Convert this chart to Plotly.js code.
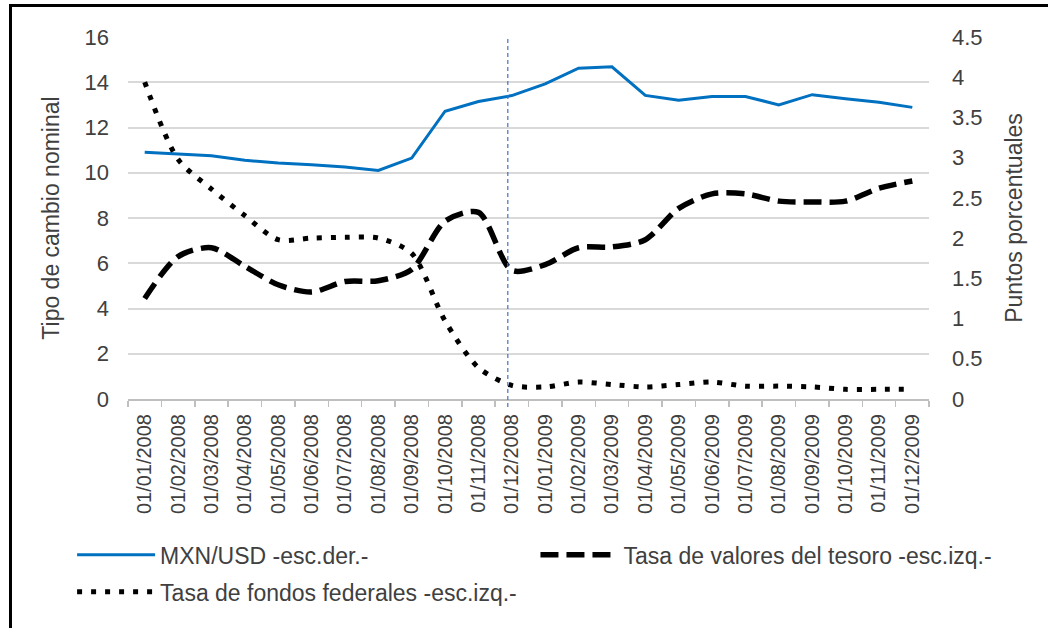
<!DOCTYPE html>
<html>
<head>
<meta charset="utf-8">
<script src="https://cdn.plot.ly/plotly-3.0.1.min.js"></script>
<style>
  html, body { margin: 0; padding: 0; background: #fff; }
  #wrap { position: relative; width: 1048px; height: 628px; overflow: hidden; }
  #chart { width: 1048px; height: 628px; }
  #frame { position: absolute; left: 9px; top: 4px; width: 1100px; height: 700px;
           border-left: 3px solid #000; border-top: 3px solid #000; pointer-events: none; }
</style>
</head>
<body>
<div id="wrap">
  <div id="chart"></div>
  <div id="frame"></div>
</div>
<script>
// ---- data ----
var categories = ['01/01/2008','01/02/2008','01/03/2008','01/04/2008','01/05/2008','01/06/2008',
  '01/07/2008','01/08/2008','01/09/2008','01/10/2008','01/11/2008','01/12/2008',
  '01/01/2009','01/02/2009','01/03/2009','01/04/2009','01/05/2009','01/06/2009',
  '01/07/2009','01/08/2009','01/09/2009','01/10/2009','01/11/2009','01/12/2009'];

// MXN/USD exchange rate (left axis)
var mxnUsd = [10.91, 10.82, 10.75, 10.55, 10.43, 10.35, 10.25, 10.10, 10.65, 12.72, 13.15, 13.41,
  13.93, 14.62, 14.68, 13.42, 13.20, 13.37, 13.37, 13.00, 13.45, 13.27, 13.12, 12.89];

// Treasury rate (right axis, percentage points)
var tesoro = [1.25, 1.77, 1.88, 1.65, 1.42, 1.33, 1.46, 1.47, 1.61, 2.21, 2.32, 1.60,
  1.67, 1.88, 1.89, 1.98, 2.37, 2.55, 2.55, 2.46, 2.45, 2.46, 2.62, 2.71];

// Federal funds rate (right axis, percentage points)
var fondosFed = [3.94, 2.98, 2.61, 2.28, 1.98, 2.00, 2.01, 2.00, 1.81, 0.97, 0.39, 0.17,
  0.15, 0.21, 0.18, 0.15, 0.18, 0.21, 0.16, 0.16, 0.15, 0.12, 0.12, 0.12];

var seriesNames = ['MXN/USD -esc.der.-', 'Tasa de valores del tesoro -esc.izq.-', 'Tasa de fondos federales -esc.izq.-'];
var markerCategory = '01/12/2008';

var leftTicks = [0, 2, 4, 6, 8, 10, 12, 14, 16];
var rightTicks = [0, 0.5, 1, 1.5, 2, 2.5, 3, 3.5, 4, 4.5];

// ---- chart ----
var FONT = 'Arial, "Liberation Sans", sans-serif';
var TXT = '#404040';

var traces = [
  { x: categories, y: mxnUsd, name: seriesNames[0], type: 'scatter', mode: 'lines', yaxis: 'y',
    legend: 'legend', legendgroup: 'a',
    line: { color: '#0070C0', width: 3 } },
  { x: categories, y: tesoro, name: seriesNames[1], type: 'scatter', mode: 'lines', yaxis: 'y2',
    legend: 'legend2', legendgroup: 'b',
    line: { color: '#000000', width: 5.5, dash: '18px,8px', shape: 'spline', smoothing: 0.8 } },
  { x: categories, y: fondosFed, name: seriesNames[2], type: 'scatter', mode: 'lines', yaxis: 'y2',
    legend: 'legend', legendgroup: 'c',
    line: { color: '#000000', width: 5, dash: '5px,9px', shape: 'spline', smoothing: 0.8 } }
];

var markerIdx = categories.indexOf(markerCategory) - 0.12;

var legendBase = {
  orientation: 'v', xanchor: 'left', yanchor: 'top',
  font: { size: 23, color: TXT, family: FONT },
  itemwidth: 78, bgcolor: 'rgba(0,0,0,0)', traceorder: 'grouped', tracegroupgap: 4
};

var layout = {
  width: 1048, height: 628,
  margin: { l: 127.5, r: 118.5, t: 37.3, b: 228.7, autoexpand: false },
  paper_bgcolor: '#ffffff', plot_bgcolor: '#ffffff',
  font: { family: FONT, color: TXT },
  showlegend: true,
  xaxis: {
    type: 'category', tickson: 'boundaries', ticks: 'outside', ticklen: 6, tickcolor: '#bfbfbf', tickwidth: 1.5,
    showline: true, linecolor: '#bfbfbf', linewidth: 2, showgrid: false, zeroline: false,
    tickangle: -90, tickfont: { size: 20, color: TXT, family: FONT }, ticklabelstandoff: 5,
    range: [-0.5, categories.length - 0.5], fixedrange: true, automargin: false
  },
  yaxis: {
    range: [0, 16], tickvals: leftTicks, ticktext: leftTicks.map(String),
    showgrid: true, gridcolor: '#d9d9d9', gridwidth: 2, zeroline: false, showline: false, ticks: '',
    tickfont: { size: 22, color: TXT, family: FONT }, ticklabelstandoff: 18,
    title: { text: 'Tipo de cambio nominal', font: { size: 23, color: TXT, family: FONT }, standoff: 18 },
    fixedrange: true, automargin: false
  },
  yaxis2: {
    overlaying: 'y', side: 'right', range: [0, 4.5], tickvals: rightTicks, ticktext: rightTicks.map(String),
    showgrid: false, zeroline: false, showline: false, ticks: '',
    tickfont: { size: 22, color: TXT, family: FONT }, ticklabelstandoff: 22,
    title: { text: 'Puntos porcentuales', font: { size: 23, color: TXT, family: FONT }, standoff: 24 },
    fixedrange: true, automargin: false
  },
  legend: Object.assign({}, legendBase, { x: -0.0698, y: -0.371 }),
  legend2: Object.assign({}, legendBase, { x: 0.5087, y: -0.371 }),
  shapes: [
    { type: 'line', xref: 'x', yref: 'paper', x0: markerIdx, x1: markerIdx, y0: -0.022, y1: 1,
      line: { color: '#4472C4', width: 1.2, dash: '4px,3px' } }
  ]
};

Plotly.newPlot('chart', traces, layout, { displayModeBar: false, staticPlot: true });
</script>
</body>
</html>
